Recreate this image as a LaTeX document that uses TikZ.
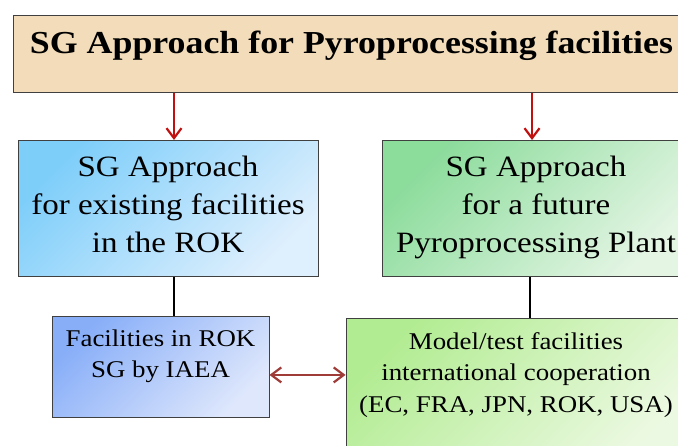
\documentclass[tikz,border=0pt]{standalone}
\usepackage{fontspec}
\setmainfont{Liberation Serif}[FakeStretch=1.12]
\usetikzlibrary{arrows.meta}
\definecolor{tan}{RGB}{242,220,185}
\definecolor{arrowred}{RGB}{192,16,16}
\definecolor{linkbrown}{RGB}{160,60,56}
\definecolor{skyA}{RGB}{126,206,250}\definecolor{skyB}{RGB}{222,239,253}
\definecolor{mintA}{RGB}{140,220,156}\definecolor{mintB}{RGB}{228,245,228}
\definecolor{blueA}{RGB}{136,174,248}\definecolor{blueB}{RGB}{222,231,252}
\definecolor{limeA}{RGB}{178,236,146}\definecolor{limeB}{RGB}{236,249,226}
\begin{document}
\begin{tikzpicture}[x=1pt,y=-1pt,
  box/.style={draw=black!75,line width=.9pt,align=center,inner xsep=0pt,inner ysep=0pt,anchor=north},
  grad/.style 2 args={top color=#1,bottom color=#2,shading angle=45},
  big/.style={font=\fontsize{29.5}{38}\selectfont},
  small/.style={font=\fontsize{24}{31.5}\selectfont},
  barb/.tip={Straight Barb[length=10pt,width=15pt,line width=2.2pt]},
  down/.style={arrowred,line width=2.2pt,-barb},
  link/.style={line width=2pt},
  both/.style={linkbrown,line width=2.4pt,barb-barb}]
  \useasboundingbox (0,0) rectangle (678,446); \clip (0,0) rectangle (678,446);
  \node[box,fill=tan,minimum width=677pt,text height=38pt,text depth=39pt,font=\fontsize{32}{38}\selectfont\bfseries] (title) at (351.5,15) {SG Approach for Pyroprocessing facilities};
  \node[box,big,grad={skyA}{skyB},minimum width=300pt,text height=112pt,text depth=24pt] (ex) at (168,140) {SG Approach\\for existing facilities\\in the ROK};
  \node[box,big,grad={mintA}{mintB},minimum width=308pt,text height=112pt,text depth=24pt] (plant) at (536,140) {SG Approach\\for a future\\Pyroprocessing Plant};
  \node[box,small,grad={blueA}{blueB},minimum width=217pt,text height=61.5pt,text depth=39.5pt] (fac) at (160.5,316) {Facilities in ROK\\SG by IAEA};
  \node[box,small,grad={limeA}{limeB},minimum width=340pt,text height=94pt,text depth=58pt] (model) at (516,318) {Model/test facilities\\international cooperation\\(EC, FRA, JPN, ROK, USA)};
  \draw[down] ([xshift=6pt]ex.north |- title.south) -- ([xshift=6pt]ex.north);
  \draw[down] ([xshift=-4pt]plant.north |- title.south) -- ([xshift=-4pt]plant.north);
  \draw[link] ([xshift=6pt]ex.south) -- ([xshift=6pt]ex.south |- fac.north);
  \draw[link] ([xshift=-6pt]plant.south) -- ([xshift=-6pt]plant.south |- model.north);
  \draw[both] ([yshift=-8pt]fac.east) -- ([yshift=-8pt]fac.east -| model.west);
\end{tikzpicture}
\end{document}
